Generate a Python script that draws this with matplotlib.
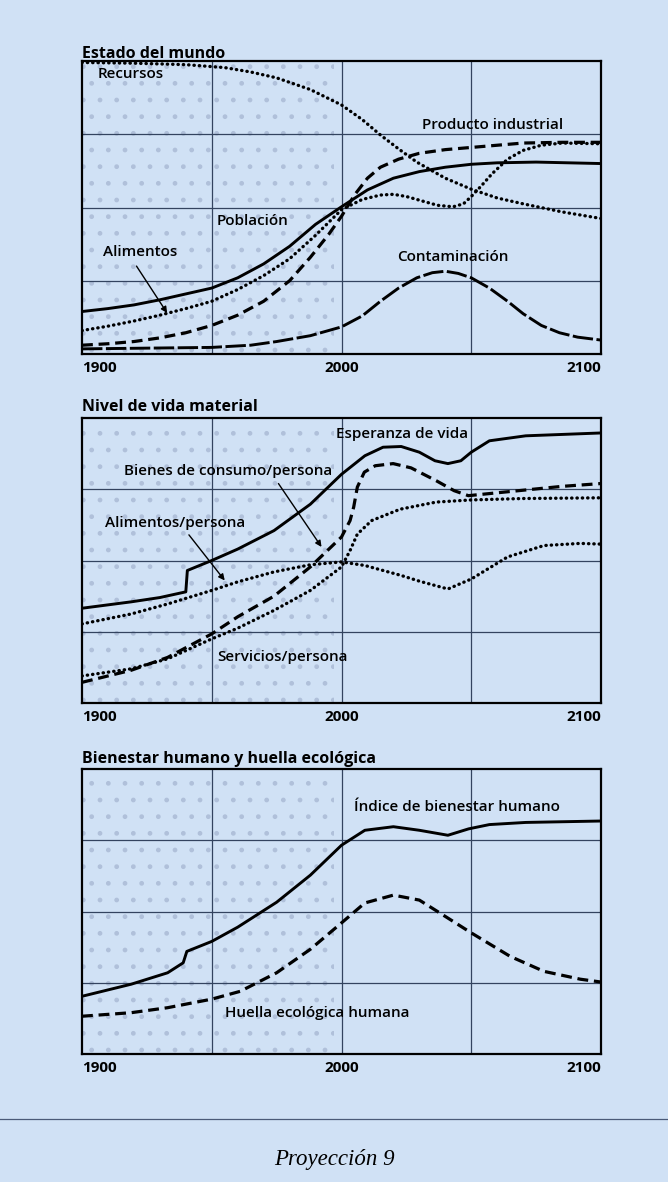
import matplotlib.pyplot as plt
from matplotlib.patches import Rectangle
from matplotlib.lines import Line2D

# --- panel 1: Estado del mundo ---
rec_years = [1900, 1920, 1940, 1955, 1965, 1975, 1988, 2000, 2008, 2015, 2022, 2029, 2040, 2050, 2060, 2070, 2085, 2100]
rec_vals = [3.98, 3.97, 3.95, 3.91, 3.85, 3.77, 3.61, 3.40, 3.20, 2.99, 2.80, 2.62, 2.40, 2.25, 2.13, 2.05, 1.94, 1.85]

ind_years = [1900, 1910, 1920, 1930, 1940, 1950, 1960, 1970, 1980, 1988, 1995, 2000, 2005, 2010, 2015, 2022, 2030, 2040, 2050, 2060, 2070, 2085, 2100]
ind_vals = [0.12, 0.14, 0.17, 0.22, 0.29, 0.39, 0.53, 0.72, 1.00, 1.32, 1.63, 1.88, 2.17, 2.40, 2.55, 2.66, 2.74, 2.79, 2.82, 2.85, 2.88, 2.89, 2.89]

pob_years = [1900, 1910, 1920, 1930, 1940, 1950, 1960, 1970, 1980, 1990, 2000, 2010, 2020, 2030, 2040, 2050, 2060, 2075, 2100]
pob_vals = [0.58, 0.62, 0.67, 0.74, 0.82, 0.90, 1.04, 1.23, 1.47, 1.77, 2.01, 2.24, 2.40, 2.49, 2.55, 2.59, 2.61, 2.62, 2.60]

ali_years = [1900, 1910, 1920, 1930, 1940, 1950, 1960, 1970, 1980, 1990, 2000, 2008, 2015, 2020, 2025, 2030, 2037, 2043, 2047, 2050, 2054, 2058, 2064, 2070, 2077, 2085, 2100]
ali_vals = [0.32, 0.38, 0.45, 0.53, 0.62, 0.72, 0.88, 1.07, 1.30, 1.62, 1.97, 2.11, 2.17, 2.18, 2.15, 2.10, 2.03, 2.01, 2.05, 2.15, 2.30, 2.46, 2.66, 2.78, 2.85, 2.88, 2.87]

con_years = [1900, 1925, 1950, 1965, 1975, 1988, 2000, 2008, 2015, 2022, 2029, 2035, 2040, 2045, 2050, 2057, 2064, 2070, 2077, 2084, 2091, 2100]
con_vals = [0.07, 0.08, 0.09, 0.12, 0.17, 0.25, 0.37, 0.52, 0.72, 0.90, 1.04, 1.11, 1.13, 1.10, 1.04, 0.90, 0.72, 0.55, 0.39, 0.29, 0.23, 0.19]

# --- panel 2: Nivel de vida material ---
esp_years = [1900, 1919, 1930, 1940, 1940.6, 1950, 1960, 1974, 1988, 2000, 2009, 2016, 2023, 2030, 2036, 2041, 2046, 2050, 2057, 2071, 2100]
esp_vals = [1.33, 1.42, 1.48, 1.56, 1.86, 2.00, 2.16, 2.42, 2.79, 3.21, 3.47, 3.59, 3.60, 3.52, 3.40, 3.36, 3.40, 3.52, 3.68, 3.75, 3.79]

bie_years = [1900, 1919, 1933, 1950, 1960, 1974, 1988, 1996, 2000, 2003.3, 2004.7, 2006.1, 2008.8, 2013, 2019.9, 2026.8, 2036.5, 2043.4, 2048.9, 2057.2, 2071, 2084.8, 2100]
bie_vals = [0.29, 0.46, 0.64, 0.97, 1.21, 1.50, 1.91, 2.19, 2.33, 2.56, 2.75, 3.03, 3.24, 3.33, 3.36, 3.30, 3.12, 2.98, 2.91, 2.94, 2.99, 3.04, 3.08]

alp_years = [1900, 1919, 1933, 1950, 1960, 1974, 1988, 2000, 2009, 2016, 2023, 2030, 2041, 2050, 2064, 2078, 2092, 2100]
alp_vals = [1.11, 1.25, 1.39, 1.58, 1.70, 1.84, 1.94, 1.98, 1.93, 1.86, 1.79, 1.71, 1.60, 1.74, 2.05, 2.21, 2.24, 2.23]

ser_years = [1900, 1919, 1933, 1950, 1960, 1974, 1988, 2000, 2003.3, 2006.1, 2011.6, 2022.6, 2036.5, 2050, 2070, 2100]
ser_vals = [0.38, 0.48, 0.62, 0.90, 1.05, 1.30, 1.58, 1.91, 2.14, 2.37, 2.56, 2.72, 2.82, 2.85, 2.87, 2.88]

# --- panel 3: Bienestar humano y huella ecologica ---
ibh_years = [1900, 1919, 1933, 1939, 1940.4, 1950, 1960, 1975, 1988, 2000, 2009, 2020, 2030, 2041, 2049, 2057, 2071, 2100]
ibh_vals = [0.81, 0.98, 1.14, 1.28, 1.44, 1.58, 1.78, 2.13, 2.51, 2.93, 3.14, 3.19, 3.14, 3.07, 3.16, 3.22, 3.25, 3.27]

hue_years = [1900, 1919, 1933, 1950, 1961, 1975, 1988, 2000, 2009, 2020, 2030, 2037, 2050, 2065, 2078, 2092, 2100]
hue_vals = [0.53, 0.58, 0.65, 0.77, 0.88, 1.14, 1.47, 1.84, 2.12, 2.23, 2.16, 2.00, 1.70, 1.37, 1.16, 1.05, 1.01]

xticks = [1900, 2000, 2100]
xtick_labels = ['1900', '2000', '2100']

bg = '#d0e1f5'
plt.rcParams['font.family'] = ['Open Sans', 'DejaVu Sans']

W, H = 668, 1182
fig = plt.figure(figsize=(W / 100, H / 100), dpi=100, facecolor=bg)

SOLID = dict(color='k', lw=2.1, linestyle='-', solid_capstyle='round')
DASH = dict(color='k', lw=2.3, linestyle=(0, (3.4, 1.8)))
DOT = dict(color='k', lw=2.4, linestyle=(0, (0.1, 1.5)), dash_capstyle='round')
LONGDASH = dict(color='k', lw=2.1, linestyle=(0, (7, 1.2)))
LBL = dict(fontsize=11, fontweight='semibold', va='center', ha='left')
ARROW = dict(arrowstyle='-|>', color='k', lw=1.0, mutation_scale=9, shrinkA=0, shrinkB=0)


def make_panel(top, bottom, title, gap):
    ax = fig.add_axes([82 / W, 1 - bottom / H, 519 / W, (bottom - top) / H])
    ax.set_facecolor(bg)
    ax.set_xlim(1900, 2100)
    ax.set_ylim(0, 4)
    ax.set_yticks([])
    ax.set_xticks(xticks)
    ax.set_xticklabels(xtick_labels, fontsize=11, fontweight='bold')
    for lab, ha in zip(ax.get_xticklabels(), ['left', 'center', 'right']):
        lab.set_ha(ha)
    ax.tick_params(axis='x', length=0, pad=5)
    for sp in ax.spines.values():
        sp.set_linewidth(1.6)
    for x in [1950, 2000, 2050]:
        ax.axvline(x, color='#33435f', lw=0.9, zorder=1)
    for y in [1, 2, 3]:
        ax.axhline(y, color='#33435f', lw=0.9, zorder=1)
    # faint stipple over the historic part
    ax.add_patch(Rectangle((1900, 0), 97, 4, fill=False, hatch='.', edgecolor='#b0c0da',
                           lw=0, zorder=0.5))
    ax.text(0, 1 + gap / (bottom - top), title, transform=ax.transAxes, fontsize=11.5,
            fontweight='bold', va='baseline', ha='left')
    return ax


ax1 = make_panel(61, 354, 'Estado del mundo', 3)
ax1.plot(rec_years, rec_vals, **DOT, zorder=3)
ax1.plot(ind_years, ind_vals, **DASH, zorder=3)
ax1.plot(pob_years, pob_vals, **SOLID, zorder=3)
ax1.plot(ali_years, ali_vals, **DOT, zorder=3)
ax1.plot(con_years, con_vals, **LONGDASH, zorder=3)
ax1.text(1906, 3.82, 'Recursos', **LBL)
ax1.text(2031, 3.12, 'Producto industrial', **LBL)
ax1.text(1952, 1.81, 'Población', **LBL)
ax1.text(1908, 1.39, 'Alimentos', **LBL)
ax1.text(2021.5, 1.32, 'Contaminación', **LBL)
ax1.annotate('', xy=(1932.8, 0.56), xytext=(1921, 1.2), arrowprops=ARROW)

ax2 = make_panel(418, 703, 'Nivel de vida material', 7)
ax2.plot(esp_years, esp_vals, **SOLID, zorder=3)
ax2.plot(bie_years, bie_vals, **DASH, zorder=3)
ax2.plot(alp_years, alp_vals, **DOT, zorder=3)
ax2.plot(ser_years, ser_vals, **DOT, zorder=3)
ax2.text(1997.8, 3.78, 'Esperanza de vida', **LBL)
ax2.text(1916.3, 3.26, 'Bienes de consumo/persona', **LBL)
ax2.text(1908.7, 2.52, 'Alimentos/persona', **LBL)
ax2.text(1952.2, 0.65, 'Servicios/persona', **LBL)
ax2.annotate('', xy=(1992.3, 2.19), xytext=(1975.7, 3.08), arrowprops=ARROW)
ax2.annotate('', xy=(1955.0, 1.72), xytext=(1941.2, 2.36), arrowprops=ARROW)

ax3 = make_panel(769, 1054, 'Bienestar humano y huella ecológica', 6)
ax3.plot(ibh_years, ibh_vals, **SOLID, zorder=3)
ax3.plot(hue_years, hue_vals, **DASH, zorder=3)
ax3.text(2004.8, 3.47, 'Índice de bienestar humano', **LBL)
ax3.text(1955.2, 0.58, 'Huella ecológica humana', **LBL)

fig.add_artist(Line2D([0, 1], [1 - 1119 / H, 1 - 1119 / H], color='#4a5a78', lw=0.9))
fig.text(0.5, 1 - 1159 / H, 'Proyección 9', family='Liberation Serif', style='italic',
         fontsize=16.5, ha='center', va='center')

fig.savefig('out.png', dpi=100, facecolor=bg)
